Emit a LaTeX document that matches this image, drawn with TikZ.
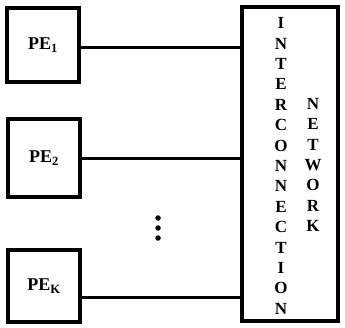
\documentclass[tikz,border=0pt]{standalone}
\usepackage{fontspec}
\setmainfont{Liberation Serif}
\begin{document}
\begin{tikzpicture}[x=1pt,y=-1pt,
  pebox/.style={draw,line width=4.5pt,minimum width=72pt,minimum height=74pt,inner sep=0pt,
    font=\bfseries\fontsize{18}{20}\selectfont},
  link/.style={line width=3pt},
  netbox/.style={draw,line width=4.5pt,inner sep=0pt},
  dot/.style={circle,fill,inner sep=0pt,minimum size=5.5pt},
  vtext/.style={align=center,inner sep=0pt,font=\bfseries\fontsize{17}{20.4}\selectfont}]
\useasboundingbox (0,0) rectangle (345,327);
\node[pebox] (pe1) at (43,45) {PE\textsubscript{1}};
\node[pebox,minimum height=78pt] (pe2) at (44,158) {PE\textsubscript{2}};
\node[pebox,minimum height=72pt] (pek) at (44,286) {PE\textsubscript{K}};
\node[netbox,minimum width=96pt,minimum height=314pt] (net) at (290,164) {};
\coordinate (c1) at (net.west |- 0,47);
\coordinate (c2) at (net.west |- 0,158);
\coordinate (c3) at (net.west |- 0,297);
\draw[link] (pe1.east |- c1) -- (c1);
\draw[link] (pe2.east |- c2) -- (c2);
\draw[link] (pek.east |- c3) -- (c3);
\node[dot] (d1) at (158,218) {};
\node[dot] (d2) at (158,228) {};
\node[dot] (d3) at (158,238) {};
\node[vtext] (inter) at (281,166) {I\\N\\T\\E\\R\\C\\O\\N\\N\\E\\C\\T\\I\\O\\N};
\node[vtext] (netw) at (313,165) {N\\E\\T\\W\\O\\R\\K};
\end{tikzpicture}
\end{document}
